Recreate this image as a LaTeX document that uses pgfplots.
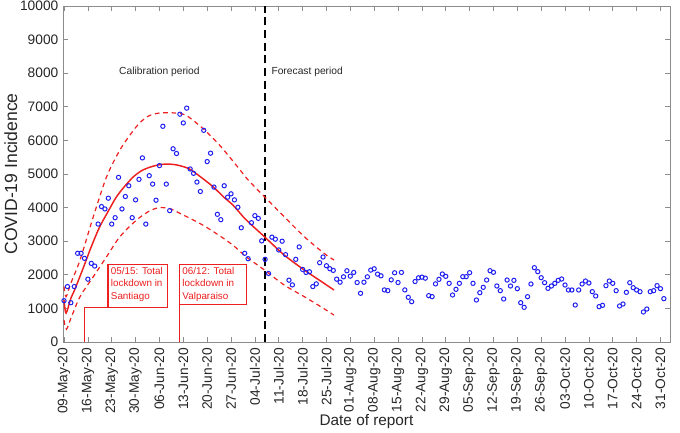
\documentclass[border=0pt]{standalone}
\usepackage{fontspec}
\setmainfont{Liberation Sans}
\usepackage{pgfplots}
\pgfplotsset{compat=1.18}
\definecolor{mblue}{rgb}{0.12,0.12,0.95}
\definecolor{mred}{rgb}{0.93,0.12,0.12}
\definecolor{axgray}{rgb}{0.55,0.55,0.55}

% daily reported incidence, day 0 = 09-May-20
\pgfplotstableread{
day inc
0 1230
1 1650
2 1170
3 1650
4 2640
5 2640
6 2490
7 1870
8 2340
9 2260
10 3510
11 4030
12 3960
13 4280
14 3510
15 3700
16 4900
17 3960
18 4330
19 4650
20 3700
21 4230
22 4840
23 5480
24 3510
25 4950
26 4700
27 4220
28 5250
29 6420
30 4700
31 3910
32 5750
33 5610
34 6780
35 6520
36 6960
37 5150
38 5020
39 4760
40 4480
41 6300
42 5370
43 5620
44 4610
45 3800
46 3640
47 4650
48 4310
49 4410
50 4230
51 4010
52 3400
53 2640
54 2480
55 3550
56 3760
57 3680
58 3010
59 2460
60 2040
61 3120
62 3060
63 2740
64 3000
65 2600
66 1840
67 1700
68 2460
69 2830
70 2160
71 2070
72 2090
73 1650
74 1730
75 2360
76 2530
77 2270
78 2180
79 2130
80 1870
81 1780
82 1940
83 2120
84 1960
85 2070
86 1770
87 1450
88 1780
89 1940
90 2140
91 2180
92 2020
93 1970
94 1550
95 1530
96 1850
97 2060
98 1770
99 2070
100 1550
101 1330
102 1200
103 1800
104 1910
105 1930
106 1900
107 1380
108 1350
109 1730
110 1865
111 2024
112 1954
113 1746
114 1399
115 1568
116 1746
117 1944
118 1944
119 2063
120 1746
121 1250
122 1468
123 1627
124 1845
125 2122
126 2074
127 1667
128 1528
129 1280
130 1845
131 1667
132 1835
133 1587
134 1170
135 1032
136 1349
137 1726
138 2212
139 2093
140 1914
141 1765
142 1597
143 1667
144 1746
145 1835
146 1875
147 1696
148 1548
149 1548
150 1101
151 1548
152 1726
153 1815
154 1756
155 1498
156 1369
157 1052
158 1091
159 1677
160 1815
161 1746
162 1528
163 1072
164 1131
165 1478
166 1765
167 1617
168 1548
169 1498
170 893
171 982
172 1498
173 1528
174 1677
175 1587
176 1290
}\incidence

\begin{document}
\begin{tikzpicture}
\begin{axis}[
    scale only axis,
    width=455.25pt, height=252pt,
    xmin=-0.3, xmax=177.8,
    ymin=0, ymax=10000,
    axis line style={axgray},
    tick style={axgray, line width=0.5pt},
    tick align=inside, tick pos=both,
    major tick length=3.5pt,
    xtick={0,7,...,175},
    xticklabels={09-May-20,16-May-20,23-May-20,30-May-20,06-Jun-20,13-Jun-20,20-Jun-20,27-Jun-20,04-Jul-20,11-Jul-20,18-Jul-20,25-Jul-20,01-Aug-20,08-Aug-20,15-Aug-20,22-Aug-20,29-Aug-20,05-Sep-20,12-Sep-20,19-Sep-20,26-Sep-20,03-Oct-20,10-Oct-20,17-Oct-20,24-Oct-20,31-Oct-20},
    xticklabel style={rotate=90, anchor=east, xshift=-1pt},
    ytick={0,1000,...,10000},
    scaled y ticks=false,
    yticklabel style={/pgf/number format/fixed, /pgf/number format/set thousands separator={}},
    /pgf/number format/assume math mode=true,
    tick label style={font=\fontsize{10.3}{12}\selectfont, text=black!85},
    xlabel={Date of report},
    ylabel={COVID-19 Incidence},
    every axis x label/.style={at={(axis description cs:0.5,-0.238)}, anchor=center, font=\fontsize{11.5}{13}\selectfont, text=black!85},
    every axis y label/.style={at={(axis description cs:-0.086,0.5)}, rotate=90, anchor=center, font=\fontsize{13.2}{15}\selectfont, text=black!85},
    clip=false,
]
% lockdown markers
\addplot[mred, line width=0.8pt] coordinates {(6,0) (6,1040) (12.9,1040)};
\addplot[mred, line width=0.8pt] coordinates {(34,0) (34,1130)};
\draw[mred, line width=0.8pt, fill=white] (axis cs:12.9,1040) rectangle (axis cs:30.4,2320);
\draw[mred, line width=0.8pt, fill=white] (axis cs:33.9,1130) rectangle (axis cs:53.5,2320);
\node[anchor=north west, align=left, text=mred, font=\fontsize{7.4}{9.4}\selectfont, inner sep=2pt] at (axis cs:12.9,2320) {05/15: Total\\lockdown in\\Santiago};
\node[anchor=north west, align=left, text=mred, font=\fontsize{7.4}{9.4}\selectfont, inner sep=2pt] at (axis cs:33.9,2320) {06/12: Total\\lockdown in\\Valparaiso};

% boundary between calibration and forecast
\addplot[black, line width=1.5pt, dash pattern=on 6pt off 3.5pt] coordinates {(59,0) (59,10000)};
\node[font=\fontsize{7.7}{9}\selectfont, text=black!85] at (axis cs:28,8040) {Calibration period};
\node[anchor=west, font=\fontsize{7.7}{9}\selectfont, text=black!85, inner sep=0pt] at (axis cs:60.8,8040) {Forecast period};

% observed data
\addplot[only marks, mark=o, mark size=1.6pt, mblue, mark options={line width=0.75pt}] table[x=day, y=inc] {\incidence};

% model fit and bounds
\addplot[mred, line width=1.1pt, smooth] coordinates {
(0,1250) (0.6,860) (2,1300) (3.1,1548) (5.6,2193) (8,2837) (10.4,3413) (12.9,3879)
(15.3,4306) (17.7,4623) (20.2,4901) (22.6,5089) (25.1,5200) (27.5,5267) (30,5297)
(33,5270) (36.6,5160) (40,4920) (43.7,4622) (47,4300) (49.5,4080) (52.9,3690)
(54.4,3540) (58.8,3134) (64.6,2589) (70.5,2143) (76.3,1746) (79.2,1548)
};
\addplot[mred, line width=0.9pt, dash pattern=on 3.5pt off 2.8pt, smooth] coordinates {
(0,1650) (0.6,1350) (2,1750) (4.7,2440) (8.6,3730) (12.5,4920) (16.4,5714) (20,6250)
(22.5,6550) (25.1,6740) (28,6815) (30.5,6825) (33,6810) (35.9,6740) (40.7,6359)
(45.6,5862) (50.5,5267) (52.9,4960) (54.4,4780) (58.8,4325) (64.6,3730) (70.5,3134)
(76.3,2640) (79.2,2440)
};
\addplot[mred, line width=0.9pt, dash pattern=on 3.5pt off 2.8pt, smooth] coordinates {
(0,650) (0.7,380) (2,700) (4.7,1349) (8.6,1944) (12.5,2540) (16.4,3134) (21.3,3631)
(25.1,3900) (28,4000) (31,3970) (33,3880) (39.8,3532) (44.6,3234) (49.5,2887)
(53.4,2540) (58.8,2143) (64.6,1696) (70.5,1349) (76.3,990) (79.2,800)
};
\end{axis}
\pgfresetboundingbox
\path (-47.25pt,-67.5pt) rectangle (462.75pt,256.5pt);
\end{tikzpicture}
\end{document}
